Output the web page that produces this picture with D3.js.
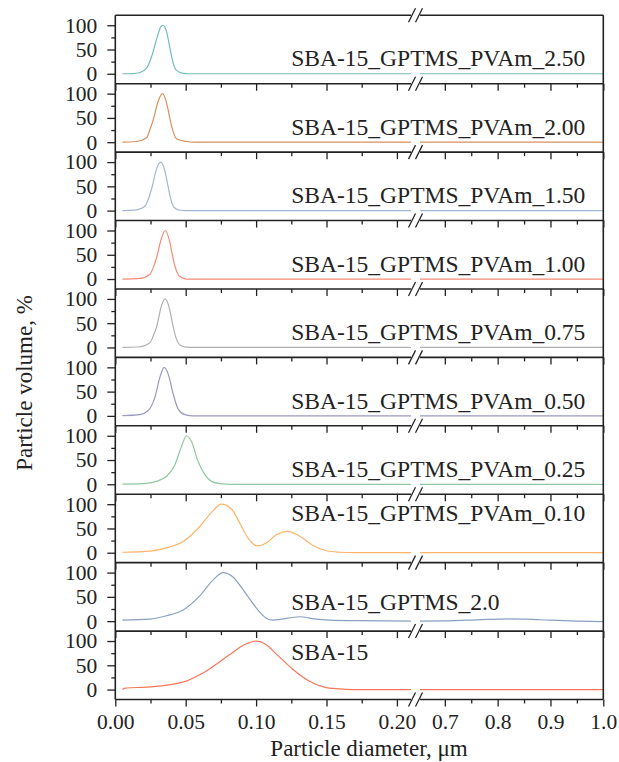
<!DOCTYPE html>
<html lang="en">
<head>
<meta charset="UTF-8">
<title>Particle size distribution</title>
<style>
  body { margin: 0; background: #fff; }
  svg { display: block; font-family: "Liberation Serif", "Times New Roman", serif; }
  .axis path { display: none; }
  .axis line { stroke: #222; stroke-width: 1.3; }
  .axis text { font-family: "Liberation Serif", serif; font-size: 21.5px; fill: #222; }
  .frame { stroke: #222; stroke-width: 1.6; fill: none; }
  .brk { stroke: #222; stroke-width: 1.3; }
  .curve { fill: none; stroke-width: 1.2; }
  .label { font-size: 23.5px; fill: #222; }
  .title { font-size: 23px; fill: #222; }
</style>
</head>
<body>
<svg width="619" height="762"></svg>
<script src="https://d3js.org/d3.v7.min.js"></script>
<script>
// panels, top to bottom
const samples = ["SBA-15_GPTMS_PVAm_2.50", "SBA-15_GPTMS_PVAm_2.00", "SBA-15_GPTMS_PVAm_1.50",
  "SBA-15_GPTMS_PVAm_1.00", "SBA-15_GPTMS_PVAm_0.75", "SBA-15_GPTMS_PVAm_0.50",
  "SBA-15_GPTMS_PVAm_0.25", "SBA-15_GPTMS_PVAm_0.10", "SBA-15_GPTMS_2.0", "SBA-15"];
const colors = ["#74bcbc", "#d8905e", "#a2b6d6", "#f48a74", "#b0b0b0",
  "#9a9abf", "#8fc89f", "#fcb46a", "#8aa0c0", "#f4775c"];
// label anchor (y value) per panel
const labelAt = [15, 15, 15, 15, 15, 15, 15, 66, 23, 61];

// diameter (um), volume (%) — part below the axis break
const s250 = [[0.005, 0], [0.012, 0.5], [0.0176, 2.7], [0.0222, 11.6], [0.0258, 35.6], [0.0293, 71], [0.0322, 96],
  [0.034, 100], [0.0364, 87], [0.0388, 53], [0.0411, 22], [0.0435, 7], [0.0482, 1], [0.052, 0], [0.21, 0]];
const s200 = [[0.005, 0], [0.0152, 1.4], [0.0222, 9], [0.0245, 25], [0.027, 47], [0.0305, 85], [0.0336, 100],
  [0.0364, 81], [0.0382, 57], [0.04, 33], [0.0435, 7], [0.0506, 1.4], [0.056, 0], [0.21, 0]];
const s150 = [[0.005, 0], [0.0151, 1.4], [0.021, 9], [0.0235, 24], [0.0258, 45], [0.0293, 86], [0.0322, 100],
  [0.0352, 82], [0.037, 57], [0.0388, 31], [0.0416, 7], [0.0459, 0.7], [0.05, 0], [0.21, 0]];
const s100 = [[0.005, 0], [0.0175, 1.4], [0.0246, 10], [0.027, 24], [0.0293, 44], [0.0329, 85], [0.0354, 100],
  [0.0388, 75], [0.0405, 50], [0.0423, 27], [0.0459, 5], [0.0506, 0], [0.21, 0]];
const s075 = [[0.005, 0], [0.0175, 1.4], [0.0246, 10], [0.027, 24], [0.0293, 42], [0.0329, 87], [0.0354, 100],
  [0.0388, 76], [0.0405, 51], [0.0423, 28], [0.0459, 5], [0.0506, 0.5], [0.055, 0], [0.21, 0]];
const s050 = [[0.005, 0.5], [0.0175, 2.7], [0.0234, 11], [0.0281, 38], [0.0317, 80], [0.0347, 100], [0.0376, 86],
  [0.0411, 45], [0.0447, 14], [0.0494, 2.7], [0.0553, 0], [0.21, 0]];
const s025 = [[0.005, 0.5], [0.0199, 1.4], [0.0293, 6], [0.0364, 16.5], [0.0423, 40], [0.047, 78], [0.0506, 100],
  [0.0541, 88], [0.0588, 47], [0.0636, 20], [0.0683, 6], [0.0742, 1.4], [0.0836, 0], [0.21, 0]];
const s010 = [[0.005, 1], [0.0246, 3.4], [0.0364, 10], [0.0482, 23], [0.06, 54], [0.0683, 83], [0.0754, 100],
  [0.0825, 90], [0.0884, 61], [0.0943, 30], [0.1008, 14], [0.1073, 20], [0.1144, 37], [0.1226, 44], [0.131, 34],
  [0.1404, 15], [0.15, 4], [0.1593, 1], [0.17, 0], [0.21, 0]];
const sG20 = [[0.005, 2], [0.0246, 4], [0.0364, 11], [0.0482, 23], [0.06, 52], [0.0695, 85], [0.0765, 100],
  [0.0836, 91], [0.0907, 65], [0.1002, 27], [0.1073, 6], [0.112, 2], [0.131, 9], [0.1427, 4], [0.1545, 1.5],
  [0.173, 1], [0.21, 0]];
const sBare = [[0.005, 0], [0.007, 3], [0.0246, 5.4], [0.05, 17], [0.064, 37], [0.0808, 71], [0.092, 93],
  [0.1, 100], [0.107, 93], [0.1144, 73], [0.126, 42], [0.138, 17], [0.15, 4], [0.1616, 1], [0.17, 0], [0.21, 0]];

// part above the axis break
const rFlat = [[0.653, 0], [1.0, 0]];
const rG20 = [[0.653, 0], [0.704, 0.7], [0.761, 2.7], [0.824, 4.8], [0.855, 4.1], [0.899, 2], [0.95, 0], [1.0, -1]];

const leftSeries = [s250, s200, s150, s100, s075, s050, s025, s010, sG20, sBare];
const rightSeries = [rFlat, rFlat, rFlat, rFlat, rFlat, rFlat, rFlat, rFlat, rG20, rFlat];

const xLeftMajor = [0, 0.05, 0.10, 0.15, 0.20];
const xLeftMinor = [0.025, 0.075, 0.125, 0.175];
const xRightMajor = [0.7, 0.8, 0.9, 1.0];
const xRightMinor = [0.75, 0.85, 0.95];
const yMajor = [0, 50, 100];
const yMinor = [25, 75];

const svg = d3.select("svg");

const xL = d3.scaleLinear().domain([0, 0.21]).range([115.3, 411]);
const xR = d3.scaleLinear().domain([0.653, 1.0]).range([420, 603.3]);
const panel = d3.scaleBand().domain(samples).range([15.3, 699.5]).paddingInner(0);
const ph = panel.bandwidth();
const y = d3.scaleLinear().domain([-20.5, 120.5]).range([ph, 0]);

const lineL = d3.line().x(d => xL(d[0])).y(d => y(d[1])).curve(d3.curveMonotoneX);
const lineR = d3.line().x(d => xR(d[0])).y(d => y(d[1])).curve(d3.curveMonotoneX);

samples.forEach((name, i) => {
  const g = svg.append("g").attr("transform", `translate(0,${panel(name)})`);
  const last = i === samples.length - 1;

  g.append("path").datum(leftSeries[i]).attr("class", "curve").attr("stroke", colors[i]).attr("d", lineL);
  g.append("path").datum(rightSeries[i]).attr("class", "curve").attr("stroke", colors[i]).attr("d", lineR);

  // y axis
  g.append("g").attr("class", "axis").attr("transform", `translate(${xL.range()[0]},0)`)
    .call(d3.axisLeft(y).tickValues(yMajor).tickSize(8).tickPadding(10).tickFormat(d3.format("d")));
  g.append("g").attr("class", "axis").attr("transform", `translate(${xL.range()[0]},0)`)
    .call(d3.axisLeft(y).tickValues(yMinor).tickSize(4).tickFormat(""));

  // x axis ticks at the bottom of every panel, labels only on the last one
  const bx = g.append("g").attr("transform", `translate(0,${ph})`);
  bx.append("g").attr("class", "axis")
    .call(d3.axisBottom(xL).tickValues(xLeftMajor).tickSize(7).tickPadding(7.7)
      .tickFormat(last ? d3.format(".2f") : ""));
  bx.append("g").attr("class", "axis")
    .call(d3.axisBottom(xL).tickValues(xLeftMinor).tickSize(4).tickFormat(""));
  bx.append("g").attr("class", "axis")
    .call(d3.axisBottom(xR).tickValues(xRightMajor).tickSize(7).tickPadding(7.7)
      .tickFormat(last ? d3.format(".1f") : ""));
  bx.append("g").attr("class", "axis")
    .call(d3.axisBottom(xR).tickValues(xRightMinor).tickSize(4).tickFormat(""));

  g.append("text").attr("class", "label")
    .attr("x", xL(0.125)).attr("y", y(labelAt[i]))
    .text(name);
});

// frame with the axis break
const yTop = panel.range()[0], yBottom = panel.range()[1];
svg.append("line").attr("class", "frame")
  .attr("x1", xL.range()[0]).attr("x2", xL.range()[0]).attr("y1", yTop).attr("y2", yBottom);
svg.append("line").attr("class", "frame")
  .attr("x1", xR.range()[1]).attr("x2", xR.range()[1]).attr("y1", yTop).attr("y2", yBottom);

const borders = samples.map(s => panel(s)).concat([yBottom]);
borders.forEach(by => {
  [xL.range(), xR.range()].forEach(r => {
    svg.append("line").attr("class", "frame")
      .attr("x1", r[0]).attr("x2", r[1]).attr("y1", by).attr("y2", by);
  });
  [xL.range()[1] + 1, xR.range()[0] - 1].forEach(cx => {
    svg.append("line").attr("class", "brk")
      .attr("x1", cx - 3.5).attr("y1", by + 7).attr("x2", cx + 3.5).attr("y2", by - 7);
  });
});

// axis titles
svg.append("text").attr("class", "title")
  .attr("x", 369).attr("y", 756).attr("text-anchor", "middle")
  .text("Particle diameter, μm");
svg.append("text").attr("class", "title")
  .attr("transform", "translate(32,383) rotate(-90)").attr("text-anchor", "middle")
  .text("Particle volume, %");
</script>
</body>
</html>
